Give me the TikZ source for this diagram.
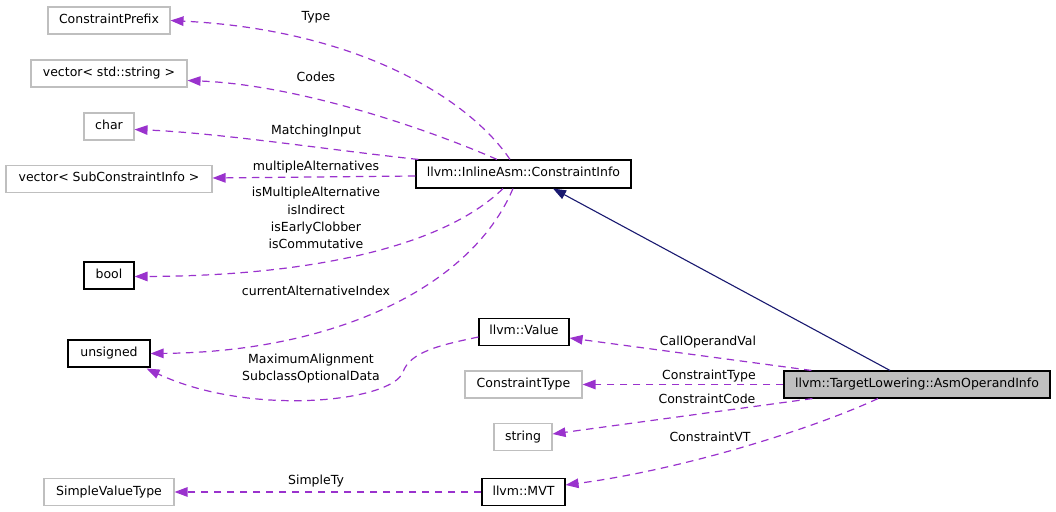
\documentclass[tikz,border=0pt]{standalone}
\usepackage{fontspec}
\setmainfont{DejaVu Sans}
\usetikzlibrary{arrows.meta,calc}
\definecolor{edgepurple}{HTML}{9A32CD}
\definecolor{inhblue}{HTML}{191970}
\definecolor{boxgray}{HTML}{BFBFBF}
\begin{document}
\begin{tikzpicture}[x=1bp,y=-1bp,
  font=\fontsize{12.5bp}{15bp}\selectfont,
  cls/.style={draw=boxgray, line width=1.1bp, inner sep=0pt, minimum height=27bp,
              text height=9.5bp, text depth=3.5bp},
  doc/.style={cls, draw=black},
  mem/.style={draw=edgepurple, line width=1.2bp, dash pattern=on 7.5bp off 5.5bp,
              -{Triangle[length=13bp,width=9.5bp]}},
  inh/.style={draw=inhblue, line width=1.1bp, -{Triangle[length=13bp,width=9.5bp]}},
  lbl/.style={inner sep=0pt, align=center, font=\fontsize{12.5bp}{17.3bp}\selectfont}]
\useasboundingbox (0,0) rectangle (1056,512);

% nodes
\node[cls, minimum width=122bp] (cp) at (109,20.5) {ConstraintPrefix};
\node[cls, minimum width=156bp] (vs) at (109,73.5) {vector< std::string >};
\node[cls, minimum width=50bp] (ch) at (109,126.5) {char};
\node[cls, minimum width=206bp] (vsc) at (109,179) {vector< SubConstraintInfo >};
\node[doc, minimum width=50bp] (bo) at (109,275.5) {bool};
\node[doc, minimum width=82bp] (un) at (109,353.5) {unsigned};
\node[cls, minimum width=130bp] (svt) at (109,492) {SimpleValueType};
\node[doc, minimum width=215bp, minimum height=28bp] (ci) at (523.5,174) {llvm::InlineAsm::ConstraintInfo};
\node[doc, minimum width=90bp] (val) at (524,332) {llvm::Value};
\node[cls, minimum width=117bp] (ctype) at (523.5,384.5) {ConstraintType};
\node[cls, minimum width=58bp] (str) at (523,437) {string};
\node[doc, minimum width=83bp] (mvt) at (523.5,492) {llvm::MVT};
\node[doc, fill=boxgray, minimum width=266bp] (aoi) at (917,384.5) {llvm::TargetLowering::AsmOperandInfo};

% member edges
\draw[mem] ($(ci.north)+(-13.5,0)$) .. controls (470,100) and (360,30) .. (cp.east);
\draw[mem] ($(ci.north)+(-26.5,0)$) .. controls (430,130) and (300,85) .. ($(vs.east)+(0,7)$);
\draw[mem] ($(ci.north west)+(3,0)$) .. controls (330,150) and (220,133) .. ($(ch.east)+(0,3)$);
\draw[mem] ($(ci.west)+(0,2)$) -- ($(vsc.east)+(0,-1)$);
\draw[mem] ($(ci.south)+(-20.5,0)$) .. controls (440,250) and (300,276) .. ($(bo.east)+(0,1)$);
\draw[mem] ($(ci.south)+(-10.5,0)$) .. controls (470,290) and (330,352) .. (un.east);
\draw[mem] ($(val.west)+(0,5)$) .. controls (440,345) and (410,352) .. (403,372)
           .. controls (392,402) and (250,417) .. ($(un.south east)+(-4,1)$);
\draw[mem] ($(aoi.north west)+(28,0)$) -- ($(val.east)+(0,6)$);
\draw[mem] (aoi.west) -- (ctype.east);
\draw[mem] ($(aoi.south west)+(29,0)$) -- ($(str.east)+(0,-3)$);
\draw[mem] ($(aoi.south)+(-39,0)$) .. controls (810,430) and (680,470) .. ($(mvt.east)+(0,-7)$);
\draw[mem] (mvt.west) -- (svt.east);
% inheritance
\draw[inh] ($(aoi.north)+(-27,0)$) -- ($(ci.south)+(29.5,0)$);

% labels
\node[lbl] (lType) at (316,17.5) {Type};
\node[lbl] (lCodes) at (316,77) {Codes};
\node[lbl] (lMatch) at (316,131) {MatchingInput};
\node[lbl] (lMulti) at (316,167.5) {multipleAlternatives};
\node[lbl] (lBool) at (316,218) {isMultipleAlternative\\isIndirect\\isEarlyClobber\\isCommutative};
\node[lbl] (lCur) at (316,290.5) {currentAlternativeIndex};
\node[lbl] (lMax) at (311,368.5) {MaximumAlignment\\SubclassOptionalData};
\node[lbl] (lCall) at (708,342.5) {CallOperandVal};
\node[lbl] (lCType) at (709,376.5) {ConstraintType};
\node[lbl] (lCCode) at (707,398.5) {ConstraintCode};
\node[lbl] (lCVT) at (710,436.5) {ConstraintVT};
\node[lbl] (lSimple) at (316,481.5) {SimpleTy};
\end{tikzpicture}
\end{document}
